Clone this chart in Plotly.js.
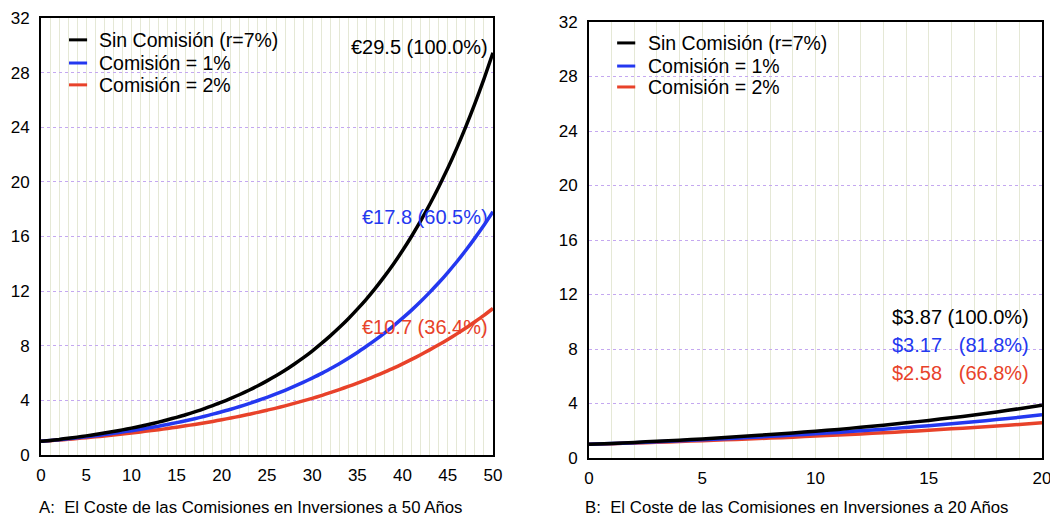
<!DOCTYPE html>
<html><head><meta charset="utf-8">
<script src="https://cdn.plot.ly/plotly-3.0.1.min.js"></script>
<style>html,body{margin:0;padding:0;background:#fff;}#c{width:1050px;height:516px;}</style>
</head><body><div id="c"></div>
<script>
// Years
const years50 = [0,1,2,3,4,5,6,7,8,9,10,11,12,13,14,15,16,17,18,19,20,21,22,23,24,25,26,27,28,29,30,31,32,33,34,35,36,37,38,39,40,41,42,43,44,45,46,47,48,49,50];
// Value of 1 invested, no fee (r=7%)
const sinComision = [1.00,1.07,1.14,1.23,1.31,1.40,1.50,1.61,1.72,1.84,1.97,2.10,2.25,2.41,2.58,2.76,2.95,3.16,3.38,3.62,3.87,4.14,4.43,4.74,5.07,5.43,5.81,6.21,6.65,7.11,7.61,8.15,8.72,9.33,9.98,10.68,11.42,12.22,13.08,13.99,14.97,16.02,17.14,18.34,19.63,21.00,22.47,24.05,25.73,27.53,29.46];
// Fee 1%
const comision1 = [1.00,1.06,1.12,1.19,1.26,1.33,1.41,1.50,1.59,1.68,1.78,1.88,2.00,2.11,2.24,2.37,2.51,2.66,2.82,2.99,3.17,3.35,3.55,3.76,3.99,4.22,4.47,4.74,5.02,5.32,5.63,5.96,6.32,6.69,7.09,7.51,7.96,8.43,8.93,9.46,10.02,10.61,11.24,11.91,12.61,13.36,14.15,14.99,15.88,16.82,17.82];
// Fee 2%
const comision2 = [1.00,1.05,1.10,1.15,1.21,1.27,1.33,1.39,1.46,1.53,1.61,1.69,1.77,1.85,1.94,2.04,2.14,2.24,2.35,2.46,2.58,2.71,2.84,2.98,3.12,3.28,3.43,3.60,3.78,3.96,4.15,4.35,4.57,4.79,5.02,5.26,5.52,5.79,6.07,6.36,6.67,7.00,7.34,7.70,8.07,8.46,8.87,9.30,9.76,10.23,10.73];
const n20 = 21; // points for 20-year panel (years 0..20)
const seriesNames = ['Sin Comisión (r=7%)','Comisión = 1%','Comisión = 2%'];
const seriesColors = ['#000000','#2438f0','#e8422a'];
const xTicks50 = [0,5,10,15,20,25,30,35,40,45,50];
const xTicks20 = [0,5,10,15,20];
const yTicks = [0,4,8,12,16,20,24,28,32];
const labelsA = ['€29.5 (100.0%)','€17.8 (60.5%)','€10.7 (36.4%)'];
const labelsB = ['$3.87 (100.0%)','$3.17\u00a0\u00a0\u00a0(81.8%)','$2.58\u00a0\u00a0\u00a0(66.8%)'];
const captions = ['A:\u00a0\u00a0El Coste de las Comisiones en Inversiones a 50 Años','B:\u00a0\u00a0El Coste de las Comisiones en Inversiones a 20 Años'];

const FONT = 'Liberation Sans, Arial, Helvetica, sans-serif';
const allSeries = [sinComision, comision1, comision2];
const traces = [];
[2,1,0].forEach(i => {
  traces.push({x: years50, y: allSeries[i], type:'scatter', mode:'lines', name: seriesNames[i],
    line:{color: seriesColors[i], width:3.5, shape:'spline', smoothing:0.6}, xaxis:'x', yaxis:'y', hoverinfo:'skip'});
});
[2,1,0].forEach(i => {
  traces.push({x: years50.slice(0,n20), y: allSeries[i].slice(0,n20), type:'scatter', mode:'lines', name: seriesNames[i],
    line:{color: seriesColors[i], width:3.5, shape:'spline', smoothing:0.6}, xaxis:'x2', yaxis:'y2', hoverinfo:'skip'});
});

function xax(dom, rng, ticks){
  return {domain: dom, range: rng, tickvals: ticks, showgrid:true, gridcolor:'#e5e8d6', gridwidth:1,
    minor:{dtick:1, tick0:0, showgrid:true, gridcolor:'#e5e8d6', gridwidth:1},
    showline:true, mirror:true, linecolor:'#000', linewidth:2, zeroline:false, ticks:'', ticklabelstandoff:4, ticklabeloverflow:'allow',
    tickfont:{family:FONT, size:17, color:'#000'}, fixedrange:true};
}
function yax(dom, anchor){
  return {domain: dom, anchor: anchor, range:[0,32], tickvals: yTicks, showgrid:true, gridcolor:'#c4a8f0', griddash:'dot', gridwidth:1,
    showline:true, mirror:true, linecolor:'#000', linewidth:2, zeroline:false, ticks:'', ticklabelstandoff:6,
    tickfont:{family:FONT, size:17, color:'#000'}, fixedrange:true};
}

const annotations = [];
const shapes = [];
const yA = [29.9, 17.4, 9.4];
labelsA.forEach((t,i)=>annotations.push({xref:'x', yref:'y', x:50, y:yA[i], text:t, showarrow:false, xanchor:'right', xshift:-3,
  font:{family:FONT, size:20, color: seriesColors[i]}}));
const yB = [10.35, 8.29, 6.24];
labelsB.forEach((t,i)=>annotations.push({xref:'x2', yref:'y2', x:13.3, y:yB[i], text:t, showarrow:false, xanchor:'left',
  font:{family:FONT, size:20, color: seriesColors[i]}}));
annotations.push({xref:'paper', yref:'paper', x:-0.004, y:-0.112, text:captions[0], showarrow:false, xanchor:'left', yanchor:'middle', font:{family:FONT, size:16.8, color:'#000'}});
annotations.push({xref:'paper', yref:'paper', x:0.5415, y:-0.112, text:captions[1], showarrow:false, xanchor:'left', yanchor:'middle', font:{family:FONT, size:16.8, color:'#000'}});

// Legends (inside each panel, top-left)
const legendSpecs = [
  {ax:'x', ay:'y', x0:0.062, x1:0.102, xt:0.124, rows:[0.950,0.897,0.847]},
  {ax:'x2', ay:'y2', x0:0.062, x1:0.102, xt:0.126, rows:[0.952,0.899,0.851]}
];
legendSpecs.forEach(L => {
  seriesNames.forEach((nm,i) => {
    shapes.push({type:'line', xref:L.ax+' domain', yref:L.ay+' domain', x0:L.x0, x1:L.x1, y0:L.rows[i], y1:L.rows[i],
      line:{color:seriesColors[i], width:3}});
    annotations.push({xref:L.ax+' domain', yref:L.ay+' domain', x:L.xt, y:L.rows[i], text:nm, showarrow:false,
      xanchor:'left', yanchor:'middle', font:{family:FONT, size:19.5, color:'#000'}});
  });
});

const layout = {
  width:1050, height:516, margin:{l:41, r:8, t:18, b:58},
  paper_bgcolor:'#fff', plot_bgcolor:'#fff', showlegend:false,
  xaxis: Object.assign(xax([0,0.4515],[0,50],xTicks50),{anchor:'y'}),
  yaxis: yax([0.0068,1],'x'),
  xaxis2: Object.assign(xax([0.5475,1],[0,20],xTicks20),{anchor:'y2'}),
  yaxis2: yax([0,0.9909],'x2'),
  annotations: annotations,
  shapes: shapes
};
Plotly.newPlot('c', traces, layout, {displayModeBar:false, staticPlot:true});
</script></body></html>
